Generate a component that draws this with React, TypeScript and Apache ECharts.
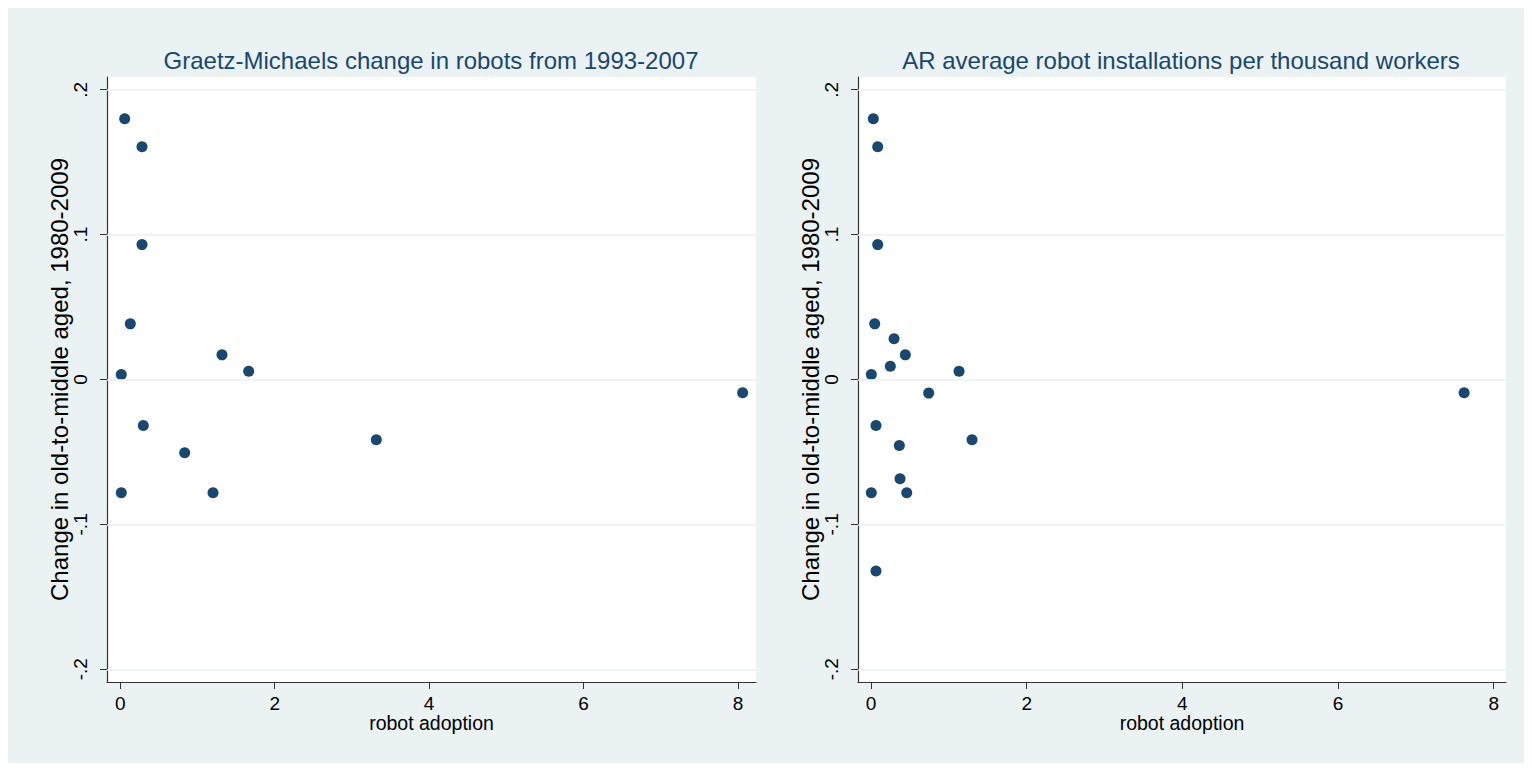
import React, { useEffect, useRef } from "react";
import * as echarts from "echarts";

const leftTitle = "Graetz-Michaels change in robots from 1993-2007";
const rightTitle = "AR average robot installations per thousand workers";
const yAxisTitle = "Change in old-to-middle aged, 1980-2009";
const xAxisTitle = "robot adoption";

const xTicks = [0, 2, 4, 6, 8];
const yTicks = [-0.2, -0.1, 0, 0.1, 0.2];

const gmX = [0.057, 0.281, 0.281, 0.13, 0.013, 1.317, 1.663, 0.298, 0.834, 0.013, 1.201, 3.316, 8.06];
const gmY = [0.18, 0.1607, 0.0931, 0.0384, 0.0035, 0.017, 0.0057, -0.0317, -0.0506, -0.0781, -0.0781, -0.0416, -0.0092];

const arX = [0.03, 0.086, 0.086, 0.048, 0.296, 0.441, 0.248, 0.004, 1.131, 0.741, 0.064, 1.298, 0.364, 0.373, 0.004, 0.459, 0.064, 7.62];
const arY = [0.18, 0.1607, 0.0931, 0.0384, 0.0281, 0.017, 0.0092, 0.0035, 0.0057, -0.0094, -0.0317, -0.0416, -0.0455, -0.0685, -0.0781, -0.0781, -0.1322, -0.0092];

const FONT = 'Arial, "Liberation Sans", sans-serif';
const BG = "#EAF2F3";
const NAVY = "#1A476F";

const fmtY = (v: number) => {
  if (Math.abs(v) < 1e-9) return "0";
  const s = String(Math.round(Math.abs(v) * 10) / 10).replace(/^0/, "");
  return (v < 0 ? "-" : "") + s;
};

export default function App() {
  const ref = useRef<HTMLDivElement>(null);
  useEffect(() => {
    if (!ref.current) return;
    const chart = echarts.init(ref.current, null, { renderer: "svg" });
    const grids = [
      { left: 99, top: 69, width: 649, height: 605 },
      { left: 850, top: 69, width: 648, height: 605 },
    ];
    const xRanges = [
      [-0.172, 8.233],
      [-0.167, 8.158],
    ];
    const mkX = (i: number) => ({
      type: "value",
      gridIndex: i,
      min: xRanges[i][0],
      max: xRanges[i][1],
      name: xAxisTitle,
      nameLocation: "middle",
      nameGap: 31,
      nameMoveOverlap: false,
      nameTextStyle: { fontFamily: FONT, fontSize: 19.5, color: "#000" },
      axisLine: { show: true, onZero: false, lineStyle: { color: "#333", width: 1.2 } },
      axisTick: { show: true, length: 7, customValues: xTicks, lineStyle: { color: "#333" } },
      axisLabel: { show: true, customValues: xTicks, fontFamily: FONT, fontSize: 19, color: "#000", margin: 12 },
      splitLine: { show: false },
    });
    const mkY = (i: number) => ({
      type: "value",
      gridIndex: i,
      min: -0.2088,
      max: 0.2088,
      name: yAxisTitle,
      nameLocation: "middle",
      nameRotate: 90,
      nameGap: 36,
      nameMoveOverlap: false,
      nameTextStyle: { fontFamily: FONT, fontSize: 24, color: "#000" },
      axisLine: { show: true, onZero: false, lineStyle: { color: "#333", width: 1.2 } },
      axisTick: { show: true, length: 7, customValues: yTicks, lineStyle: { color: "#333" } },
      axisLabel: {
        show: true,
        customValues: yTicks,
        rotate: 90,
        formatter: fmtY,
        fontFamily: FONT,
        fontSize: 19,
        color: "#000",
        margin: 17,
      },
      splitLine: { show: false },
    });
    const gridLines = {
      silent: true,
      symbol: "none",
      label: { show: false },
      lineStyle: { color: BG, type: "solid", width: 1.5 },
      data: yTicks.map((v) => ({ yAxis: v })),
    };
    chart.setOption({
      animation: false,
      backgroundColor: BG,
      title: [
        {
          text: leftTitle,
          left: 418,
          top: 35,
          textAlign: "center",
          textStyle: { fontFamily: FONT, fontSize: 24, fontWeight: "normal", color: NAVY },
        },
        {
          text: rightTitle,
          left: 1168,
          top: 35,
          textAlign: "center",
          textStyle: { fontFamily: FONT, fontSize: 24, fontWeight: "normal", color: NAVY },
        },
      ],
      grid: grids.map((g) => ({ ...g, show: true, backgroundColor: "#fff", borderWidth: 0 })),
      xAxis: [mkX(0), mkX(1)],
      yAxis: [mkY(0), mkY(1)],
      series: [
        {
          type: "scatter",
          xAxisIndex: 0,
          yAxisIndex: 0,
          symbol: "circle",
          symbolSize: 11,
          itemStyle: { color: NAVY, opacity: 1 },
          data: gmX.map((x, i) => [x, gmY[i]]),
          markLine: gridLines,
          z: 3,
        },
        {
          type: "scatter",
          xAxisIndex: 1,
          yAxisIndex: 1,
          symbol: "circle",
          symbolSize: 11,
          itemStyle: { color: NAVY, opacity: 1 },
          data: arX.map((x, i) => [x, arY[i]]),
          markLine: gridLines,
          z: 3,
        },
      ],
    });
    return () => chart.dispose();
  }, []);
  return <div ref={ref} style={{ width: 1516, height: 755 }} />;
}
